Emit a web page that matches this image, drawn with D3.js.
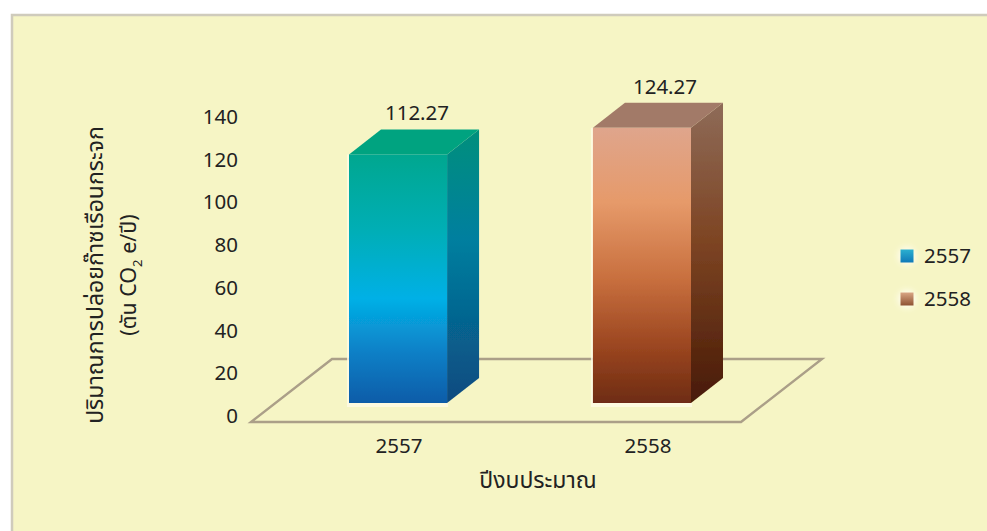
<!DOCTYPE html>
<html>
<head>
<meta charset="utf-8">
<script src="https://cdnjs.cloudflare.com/ajax/libs/d3/7.8.5/d3.min.js"></script>
<style>
html, body { margin: 0; padding: 0; background: #fff; }
svg { display: block; }
text { font-family: "Noto Sans", "Noto Sans Thai", "Open Sans", sans-serif; fill: #222; }
</style>
</head>
<body>
<div id="chart"></div>
<script>
var width = 987;
var height = 531;

var years = ["2557", "2558"];
var values = [112.27, 124.27];
var ticks = [0, 20, 40, 60, 80, 100, 120, 140];
var yTitle1 = "ปริมาณการปล่อยก๊าซเรือนกระจก";
var xTitle = "ปีงบประมาณ";

var frontStops = [
    [[0, "#05a78f"], [0.3, "#02aeb5"], [0.58, "#04b0e6"], [0.8, "#0a7fc6"], [1, "#0a5ca8"]],
    [[0, "#dfa58c"], [0.27, "#e69a6a"], [0.55, "#c86f3e"], [0.8, "#9a4520"], [1, "#6e2c12"]]
];
var sideStops = [
    [[0, "#008f7c"], [0.4, "#027f9f"], [1, "#0a4a80"]],
    [[0, "#8e6b58"], [0.45, "#7e4524"], [1, "#481a06"]]
];
var topColors = ["#02a380", "#a27a68"];

var svg = d3.select("#chart").append("svg")
    .attr("width", width)
    .attr("height", height);

var defs = svg.append("defs");

function addGradient(id, stops) {
    var g = defs.append("linearGradient")
        .attr("id", id)
        .attr("x1", 0).attr("y1", 0)
        .attr("x2", 0).attr("y2", 1);
    stops.forEach(function (s) {
        g.append("stop").attr("offset", s[0]).attr("stop-color", s[1]);
    });
}
years.forEach(function (y, i) {
    addGradient("front" + i, frontStops[i]);
    addGradient("side" + i, sideStops[i]);
});
addGradient("legend0", [[0, "#2bb0d0"], [1, "#1079b8"]]);
addGradient("legend1", [[0, "#d9a584"], [1, "#8e5232"]]);

defs.append("filter").attr("id", "soft")
    .append("feGaussianBlur").attr("stdDeviation", 0.6);
defs.append("filter").attr("id", "halo")
    .attr("x", "-100%").attr("y", "-100%").attr("width", "300%").attr("height", "300%")
    .append("feGaussianBlur").attr("stdDeviation", 3);

// panel
svg.append("rect")
    .attr("x", 12).attr("y", 15)
    .attr("width", width).attr("height", height)
    .attr("fill", "#f6f5c5")
    .attr("stroke", "#cfcbbc")
    .attr("stroke-width", 2.5)
    .attr("filter", "url(#soft)");

// scales: the axis labels and the drawn bars sit on slightly different planes
var yAxisScale = d3.scaleLinear().domain([0, 140]).range([416, 117]);
var yBar = d3.scaleLinear().domain([0, 140]).range([403, 93]);
var xBand = d3.scaleBand().domain(years).range([349, 691]).paddingInner(0.598);
var xLabel = d3.scalePoint().domain(years).range([399, 648]);
var xValue = d3.scalePoint().domain(years).range([417, 665]);
var depthX = 32, depthY = 25;

var floorColor = "#ab9f88";

// floor and wall
var floorX = d3.scaleLinear().domain([0, 1]).range([251, 741]);
var floorY = d3.scaleLinear().domain([0, 1]).range([422, 359]);
var floor = d3.line()
    .x(function (d) { return floorX(d[0]) + d[1] * 81; })
    .y(function (d) { return floorY(d[1]); });

svg.append("path")
    .attr("d", floor([[0, 0], [1, 0], [1, 1], [0, 1]]) + "Z")
    .attr("fill", "none")
    .attr("stroke", floorColor)
    .attr("stroke-width", 2.4)
    .attr("filter", "url(#soft)");

svg.append("line")
    .attr("x1", 252).attr("x2", 252)
    .attr("y1", 110).attr("y2", 423)
    .attr("stroke", floorColor)
    .attr("stroke-width", 2.4)
    .attr("filter", "url(#soft)");

// y axis labels
var yAxis = d3.axisLeft(yAxisScale).tickValues(ticks).tickSize(0).tickPadding(0);
var yG = svg.append("g")
    .attr("transform", "translate(238,0)")
    .call(yAxis);
yG.select(".domain").remove();
yG.selectAll("text").style("font-size", "20.5px").style("font-family", null);

// bars
var bars = svg.append("g").selectAll("g")
    .data(years)
    .enter()
    .append("g")
    .attr("filter", "url(#soft)");

function barX(d) { return xBand(d); }
function barTop(i) { return yBar(values[i]); }

// pale glow under each bar
bars.append("rect")
    .attr("x", function (d) { return barX(d) - 2; })
    .attr("y", function (d, i) { return barTop(i); })
    .attr("width", xBand.bandwidth() + 3)
    .attr("height", function (d, i) { return yBar(0) - barTop(i) + 4; })
    .attr("fill", "#fffbe6")
    .attr("opacity", 0.8);

bars.append("path")
    .attr("d", function (d, i) {
        var x = barX(d) + xBand.bandwidth(), t = barTop(i), b = yBar(0);
        return d3.line()([[x, t], [x + depthX, t - depthY], [x + depthX, b - depthY], [x, b]]) + "Z";
    })
    .attr("fill", function (d, i) { return "url(#side" + i + ")"; });

bars.append("path")
    .attr("d", function (d, i) {
        var x = barX(d), w = xBand.bandwidth(), t = barTop(i);
        return d3.line()([[x, t], [x + depthX, t - depthY], [x + w + depthX, t - depthY], [x + w, t]]) + "Z";
    })
    .attr("fill", function (d, i) { return topColors[i]; });

bars.append("rect")
    .attr("x", barX)
    .attr("y", function (d, i) { return barTop(i); })
    .attr("width", xBand.bandwidth())
    .attr("height", function (d, i) { return yBar(0) - barTop(i); })
    .attr("fill", function (d, i) { return "url(#front" + i + ")"; });

// value labels
svg.append("g").selectAll("text")
    .data(values)
    .enter()
    .append("text")
    .attr("x", function (d, i) { return xValue(years[i]); })
    .attr("y", function (d) { return yBar(d) - 34; })
    .attr("text-anchor", "middle")
    .style("font-size", "20.5px")
    .text(function (d) { return d3.format(".2f")(d); });

// x labels
svg.append("g").selectAll("text")
    .data(years)
    .enter()
    .append("text")
    .attr("x", function (d) { return xLabel(d); })
    .attr("y", 453)
    .attr("text-anchor", "middle")
    .style("font-size", "20.5px")
    .text(function (d) { return d; });

// axis titles
svg.append("text")
    .attr("x", 538).attr("y", 488)
    .attr("text-anchor", "middle")
    .style("font-size", "23px")
    .text(xTitle);

var yTitle = svg.append("g").attr("transform", "translate(103,275) rotate(-90)");
yTitle.append("text")
    .attr("text-anchor", "middle")
    .style("font-size", "23px")
    .text(yTitle1);
var sub = yTitle.append("text")
    .attr("y", 33)
    .attr("text-anchor", "middle")
    .style("font-size", "21.5px");
sub.append("tspan").text("(ตัน CO");
sub.append("tspan").attr("dy", 6).style("font-size", "13px").text("2");
sub.append("tspan").attr("dy", -6).text(" e/ปี)");

// legend
var legendY = d3.scaleBand().domain(years).range([234.5, 320.5]).paddingInner(0);
var legend = svg.append("g").selectAll("g")
    .data(years)
    .enter()
    .append("g")
    .attr("transform", function (d) { return "translate(907," + legendY(d) + ")"; });

legend.append("circle")
    .attr("cy", legendY.bandwidth() / 2)
    .attr("r", 9)
    .attr("fill", "#fffdf0")
    .attr("filter", "url(#halo)");
legend.append("rect")
    .attr("x", -6.5)
    .attr("y", legendY.bandwidth() / 2 - 6.5)
    .attr("width", 13)
    .attr("height", 13)
    .attr("fill", function (d, i) { return "url(#legend" + i + ")"; });
legend.append("text")
    .attr("x", 17)
    .attr("y", legendY.bandwidth() / 2 + 7)
    .style("font-size", "20.5px")
    .text(function (d) { return d; });
</script>
</body>
</html>
